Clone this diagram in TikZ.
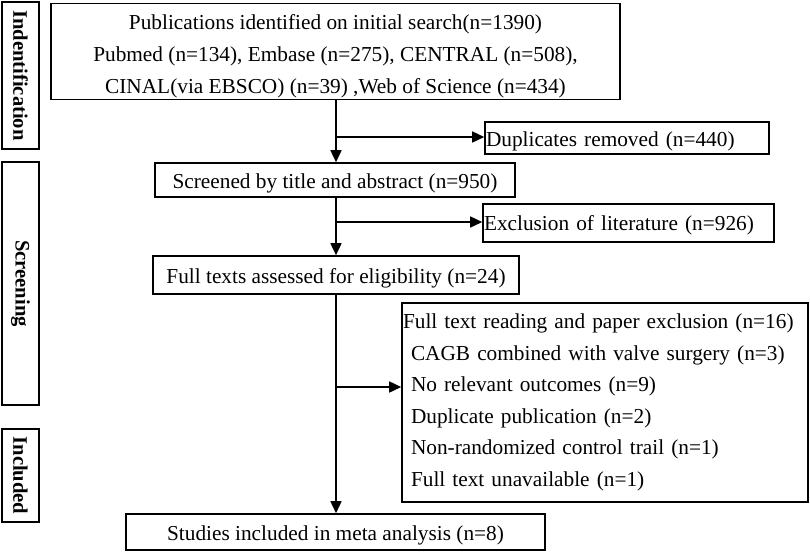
\documentclass[tikz,border=0pt]{standalone}
\usepackage{fontspec}
\setmainfont{Liberation Serif}
\usetikzlibrary{arrows.meta}
\newcommand{\dn}[2]{\raisebox{-#1}[\height][\depth]{#2}}
\begin{document}
\begin{tikzpicture}[x=1pt,y=-1pt,
  box/.style={draw, line width=1.6pt, inner sep=0pt, align=center, font=\fontsize{21.3}{32}\selectfont},
  lbox/.style={draw, line width=1.6pt, inner sep=1pt, align=left, font=\fontsize{21.3}{31.5}\selectfont},
  side/.style={draw, line width=1.6pt, inner sep=0pt, rotate=-90, font=\bfseries\fontsize{20.6}{24}\selectfont},
  arr/.style={line width=1.6pt, -{Triangle[length=12pt,width=11pt]}}]
\useasboundingbox (0,0) rectangle (810,552);
% side labels
\node[side, minimum width=147pt, minimum height=37pt] (ident) at (20.5,75.5) {Indentification};
\node[side, minimum width=243pt, minimum height=37pt] (scrn) at (20.5,283.5) {Screening};
\node[side, minimum width=93pt, minimum height=37pt] (incl) at (20.5,475.5) {Included};
% main boxes
\node[box, minimum width=569pt, minimum height=95pt] (top) at (335.5,51.5)
  {\dn{4pt}{\begin{tabular}{@{}c@{}}Publications identified on initial search(n=1390)\\
   Pubmed (n=134), Embase (n=275), CENTRAL (n=508),\\
   CINAL(via EBSCO) (n=39) ,Web of Science (n=434)\end{tabular}}};
\node[box, minimum width=360pt, minimum height=34pt] (scr) at (335,180)
  {\dn{3pt}{Screened by title and abstract (n=950)}};
\node[box, minimum width=366pt, minimum height=38pt] (full) at (336,275)
  {\dn{3pt}{Full texts assessed for eligibility (n=24)}};
\node[box, minimum width=419pt, minimum height=36pt] (stud) at (335.5,532)
  {\dn{3pt}{Studies included in meta analysis (n=8)}};
% right boxes
\node[lbox, text width=282pt, minimum height=32pt] (dup) at (627,138)
  {\dn{3pt}{Duplicates removed (n=440)}};
\node[lbox, text width=289pt, minimum height=38pt] (exl) at (628.5,223)
  {\dn{2pt}{Exclusion of literature (n=926)}};
\node[lbox, text width=404pt, minimum height=199pt] (exf) at (605,402.5)
  {Full text reading and paper exclusion (n=16)\\
   \hspace*{8pt}CAGB combined with valve surgery (n=3)\\
   \hspace*{8pt}No relevant outcomes (n=9)\\
   \hspace*{8pt}Duplicate publication (n=2)\\
   \hspace*{8pt}Non-randomized control trail (n=1)\\
   \hspace*{8pt}Full text unavailable (n=1)};
% connectors
\coordinate (v1) at (336,99);
\coordinate (b1) at (336,137);
\coordinate (b2) at (336,222);
\coordinate (b3) at (336,387);
\draw[arr] (v1) -- (v1 |- scr.north);
\draw[arr] (b1) -- (b1 -| dup.west);
\draw[arr] (b1 |- scr.south) -- (b1 |- full.north);
\draw[arr] (b2) -- (b2 -| exl.west);
\draw[arr] (b1 |- full.south) -- (b1 |- stud.north);
\draw[arr] (b3) -- (b3 -| exf.west);
\end{tikzpicture}
\end{document}
